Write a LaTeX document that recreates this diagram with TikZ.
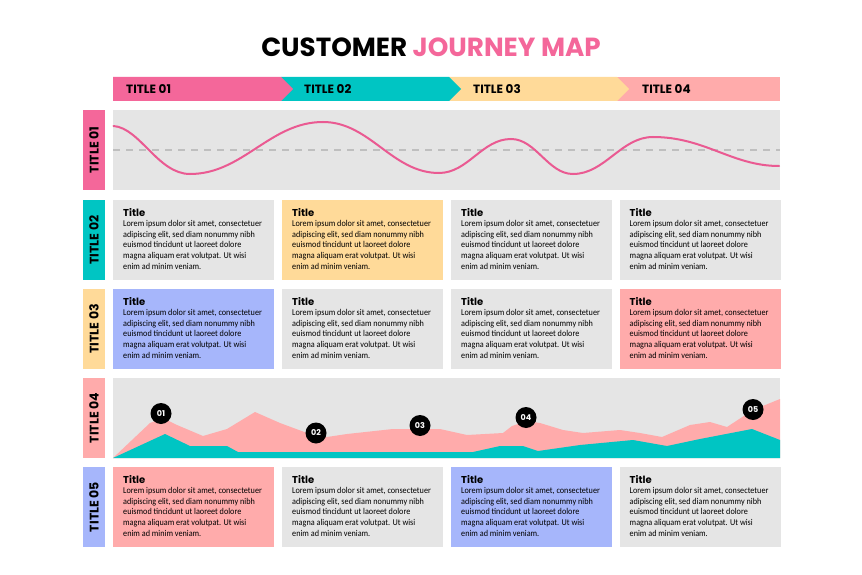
\documentclass[tikz,border=0pt]{standalone}
\usepackage{fontspec}
\setmainfont{Carlito}
\newfontfamily\bodyfont[FakeStretch=0.92]{Carlito}
\newfontfamily\headfont{Poppins}
\newfontfamily\labfont{Poppins}
\usetikzlibrary{calc}
\definecolor{cjpink}{HTML}{F4679A}
\definecolor{cjcurve}{HTML}{EA5A92}
\definecolor{cjteal}{HTML}{00C5C3}
\definecolor{cjyellow}{HTML}{FFDA99}
\definecolor{cjsalmon}{HTML}{FFABAB}
\definecolor{cjblue}{HTML}{A6B6FB}
\definecolor{cjgray}{HTML}{E5E5E5}
\definecolor{cjdash}{HTML}{BFBFBF}
\newcommand\cjtext[1]{%
  \node[cardtitle] (#1-t) at ([xshift=10pt,yshift=-16pt]#1.north west) {Title};
  \foreach \txt [count=\i] in {{Lorem ipsum dolor sit amet, consectetuer},{adipiscing elit, sed diam nonummy nibh},{euismod tincidunt ut laoreet dolore},{magna aliquam erat volutpat. Ut wisi},{enim ad minim veniam.}}{%
    \node[cardbody] (#1-l\i) at ([xshift=10pt,yshift={-26.5pt-(\i-1)*10.65pt}]#1.north west) {\txt};}}
\begin{document}
\begin{tikzpicture}[x=1pt,y=-1pt,
  card/.style={inner sep=0pt,minimum width=161pt,minimum height=80pt,anchor=north west},
  cardtitle/.style={anchor=base west,inner sep=0pt,font=\labfont\bfseries\fontsize{10}{12}\selectfont},
  cardbody/.style={anchor=base west,inner sep=0pt,font=\bodyfont\fontsize{8.9}{10}\selectfont},
  rowlab/.style={inner sep=0pt,minimum width=80pt,minimum height=22pt,rotate=90,font=\labfont\bfseries\fontsize{12.5}{14}\selectfont},
  headtxt/.style={anchor=west,inner sep=0pt,font=\labfont\bfseries\fontsize{12}{14}\selectfont},
  band/.style={inner sep=0pt,minimum width=667pt,minimum height=80pt,anchor=north west,fill=cjgray},
  num/.style={circle,fill=black,inner sep=0pt,minimum size=21pt,text=white,font=\labfont\bfseries\fontsize{8}{10}\selectfont},
  dashline/.style={draw=cjdash,line width=1.8pt,dash pattern=on 7pt off 6pt},
  curveline/.style={draw=cjcurve,line width=2pt,line cap=round}]
\useasboundingbox (0,0) rectangle (862,575);
\fill[white] (0,0) rectangle (862,575);
% title
\node[font=\headfont\bfseries\fontsize{26.2}{30}\selectfont,inner sep=0pt] (title) at (431,47) {CUSTOMER \textcolor{cjpink}{JOURNEY MAP}};
% header bar
\fill[cjsalmon] (617,77) rectangle (780,101);
\fill[cjyellow] (449,77) -- (617,77) -- (629,89) -- (617,101) -- (449,101) -- cycle;
\fill[cjteal] (281,77) -- (449,77) -- (461,89) -- (449,101) -- (281,101) -- cycle;
\fill[cjpink] (113,77) -- (281,77) -- (293,89) -- (281,101) -- (113,101) -- cycle;
\node[headtxt] (h1) at (126,89.5) {TITLE 01};
\node[headtxt] (h2) at (304,89.5) {TITLE 02};
\node[headtxt] (h3) at (473,89.5) {TITLE 03};
\node[headtxt] (h4) at (642,89.5) {TITLE 04};
% row labels
\node[rowlab,fill=cjpink] (lab1) at (94,150) {TITLE 01};
\node[rowlab,fill=cjteal] (lab2) at (94,240) {TITLE 02};
\node[rowlab,fill=cjyellow] (lab3) at (94,329) {TITLE 03};
\node[rowlab,fill=cjsalmon] (lab4) at (94,418) {TITLE 04};
\node[rowlab,fill=cjblue] (lab5) at (94,507) {TITLE 05};
% row 1
\node[band] (band1) at (113,110) {};
\coordinate (dashA) at (113,150);
\coordinate (dashB) at (780,150);
\draw[dashline] (dashA) -- (dashB);
\draw[curveline] (113.5,126) .. controls (140,128) and (158,174) .. (190,174)
  .. controls (243,174) and (270,122) .. (323,122)
  .. controls (370,122) and (392,173) .. (439,173)
  .. controls (468,173) and (482,139) .. (511,139)
  .. controls (536,139) and (548,174) .. (573,174)
  .. controls (605,174) and (621,137) .. (653,137)
  .. controls (705,137) and (732,166) .. (779,166);
% cards
\foreach \nm/\xx/\yy/\cc in {r2c1/113/200/cjgray, r2c2/282/200/cjyellow, r2c3/451/200/cjgray, r2c4/619.5/200/cjgray,
  r3c1/113/289/cjblue, r3c2/282/289/cjgray, r3c3/451/289/cjgray, r3c4/619.5/289/cjsalmon,
  r5c1/113/467/cjsalmon, r5c2/282/467/cjgray, r5c3/451/467/cjblue, r5c4/619.5/467/cjgray}{%
  \node[card,fill=\cc] (\nm) at (\xx,\yy) {};
  \cjtext{\nm}}
% row 4
\node[band] (band4) at (113,378) {};
\fill[cjsalmon] (113,458) -- (150,423) -- (163,418) -- (177,425) -- (203,436) -- (227,429) -- (255,412)
  -- (280,423) -- (307,433) -- (327,437) -- (347,434) -- (393,429) -- (440,429) -- (467,435)
  -- (503,433) -- (512,426) -- (527,421) -- (540,423) -- (563,430) -- (583,433) -- (620,430)
  -- (640,433) -- (662,437) -- (690,425) -- (710,422) -- (727,427) -- (753,410) -- (780,399)
  -- (780,458) -- cycle;
\fill[cjteal] (113,458) -- (165,434) -- (190,446) -- (227,446) -- (238,452) -- (473,452)
  -- (500,446) -- (523,446) -- (538,451) -- (580,445) -- (633,440) -- (667,446) -- (700,439)
  -- (752,429) -- (780,440) -- (780,458) -- cycle;
\node[num] (n1) at (161,413.5) {01};
\node[num] (n2) at (316,433) {02};
\node[num] (n3) at (420,425.5) {03};
\node[num] (n4) at (526,417.5) {04};
\node[num] (n5) at (753,409.5) {05};
\end{tikzpicture}
\end{document}
